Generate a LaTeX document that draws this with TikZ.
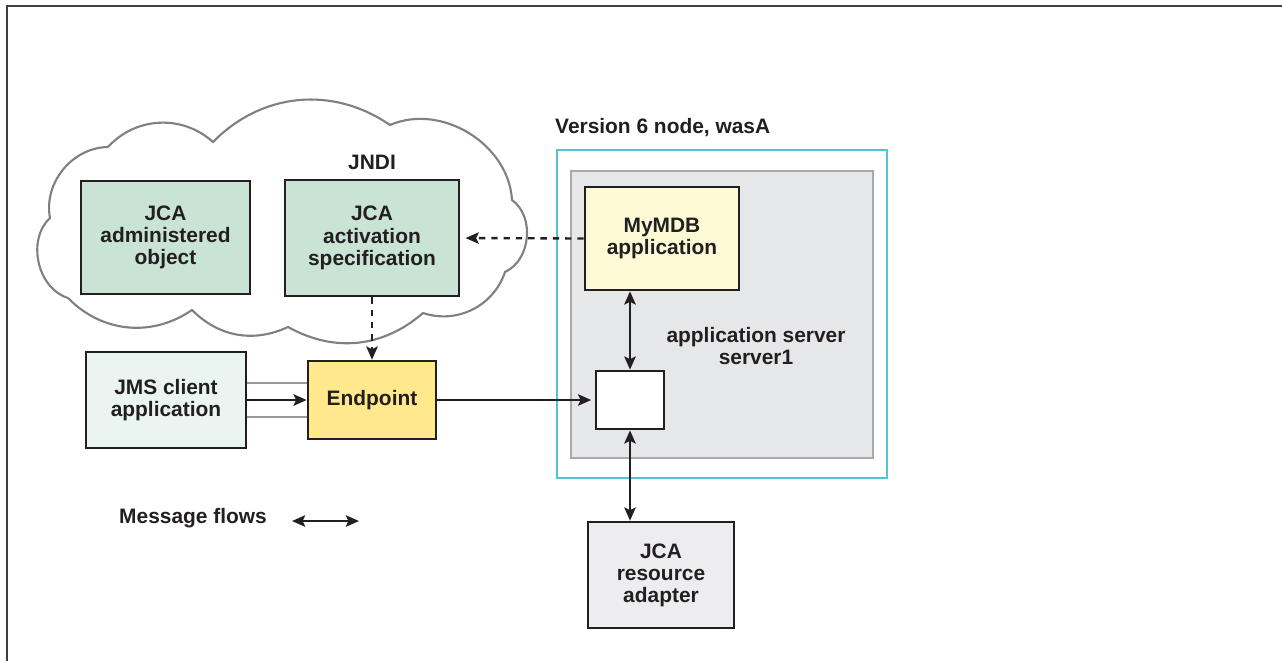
\documentclass[tikz,border=0pt]{standalone}
\usepackage{fontspec}
\setmainfont{Liberation Sans}
\usepackage{xcolor}
\usepackage{tikz}
\usetikzlibrary{arrows.meta}
\definecolor{inktext}{RGB}{35,31,32}
\definecolor{jndigreen}{RGB}{201,228,213}
\definecolor{clientmint}{RGB}{234,244,240}
\definecolor{endpointyellow}{RGB}{255,233,140}
\definecolor{mdbyellow}{RGB}{255,250,214}
\definecolor{servergray}{RGB}{230,231,232}
\definecolor{serveredge}{RGB}{167,169,172}
\definecolor{adaptergray}{RGB}{237,237,239}
\definecolor{nodecyan}{RGB}{84,197,208}
\definecolor{cloudgray}{RGB}{128,128,128}

\begin{document}
\begin{tikzpicture}[x=0.02cm, y=-0.02cm,
  every node/.style={text=inktext, font=\fontsize{11.9pt}{12.6pt}\selectfont\bfseries, align=center},
  box/.style={draw=inktext, line width=1.5pt, inner sep=0pt},
  flow/.style={draw=inktext, line width=1.35pt, -{Stealth[length=7.5pt,width=6.5pt,inset=1.5pt]}},
  twoway/.style={flow, {Stealth[length=7.5pt,width=6.5pt,inset=1.5pt]}-{Stealth[length=7.5pt,width=6.5pt,inset=1.5pt]}},
  lookup/.style={flow, dash pattern=on 3.6pt off 3.4pt}]
  \useasboundingbox (0,0) rectangle (1282,660);
  % Frame (runs off the page at right and bottom)
  \draw[line width=0.9pt, draw=black!75] (7,6) rectangle (1300,680);

  % JNDI cloud
  \draw[cloudgray, line width=1.2pt, fill=white]
    (50,218) to[bend left=50] (108,147) to[bend left=45] (213,142)
    to[bend left=40] (390,125) to[bend left=55] (512,200)
    to[bend left=60] (505,272) to[bend left=45] (423,313)
    to[bend left=35] (288,327) to[bend left=35] (192,310)
    to[bend left=40] (68,298) to[bend left=60] (50,218) -- cycle;
  \node (jndi) at (372,162) {JNDI};
  \node[box, fill=jndigreen, minimum width=3.38cm, minimum height=2.26cm] (admin) at (165.5,237.5) {JCA\\administered\\object};
  \node[box, fill=jndigreen, minimum width=3.48cm, minimum height=2.32cm] (actspec) at (372,238) {JCA\\activation\\specification};

  % Version 6 node and application server
  \node[anchor=west] (wasa) at (549,128) {Version 6 node, wasA};
  \node[draw=nodecyan, line width=1pt, minimum width=6.6cm, minimum height=6.56cm] (wasnode) at (722,314) {};
  \node[draw=serveredge, fill=servergray, line width=1.1pt, minimum width=6.04cm, minimum height=5.74cm] (server) at (722,314.5) {};
  \node (srvlabel) at (756,346) {application server\\server1};
  \node[box, fill=mdbyellow, minimum width=3.08cm, minimum height=2.06cm] (mymdb) at (662,238.5) {MyMDB\\application};
  \node[box, fill=white, minimum width=1.36cm, minimum height=1.16cm] (square) at (630,400) {};

  % Client side
  \node[box, fill=clientmint, minimum width=3.2cm, minimum height=1.92cm] (jms) at (166,400) {JMS client\\application};
  \node[box, fill=endpointyellow, minimum width=2.56cm, minimum height=1.56cm] (endpoint) at (372,400) {Endpoint};
  \node[box, fill=adaptergray, minimum width=2.92cm, minimum height=2.12cm] (adapter) at (661,575) {JCA\\resource\\adapter};

  % Connectors
  \draw[black!40, line width=0.7pt] ([yshift=0.34cm]jms.east) -- ([yshift=0.34cm]endpoint.west);
  \draw[black!40, line width=0.7pt] ([yshift=-0.34cm]jms.east) -- ([yshift=-0.34cm]endpoint.west);
  \draw[flow] (jms.east) -- (endpoint.west);
  \draw[flow, shorten >=2pt] (endpoint.east) -- (square.west);
  \draw[lookup, shorten >=3pt] (mymdb.west) -- (actspec.east);
  \draw[lookup] (actspec.south) -- (endpoint.north);
  \draw[twoway] (square.north) -- (square.north |- mymdb.south);
  \draw[twoway] (square.south) -- (square.south |- adapter.north);

  % Legend
  \node (legend) at (193,518) {Message flows};
  \coordinate (flowa) at (292,521);
  \coordinate (flowb) at (359,521);
  \draw[twoway] (flowa) -- (flowb);
\end{tikzpicture}
\end{document}
